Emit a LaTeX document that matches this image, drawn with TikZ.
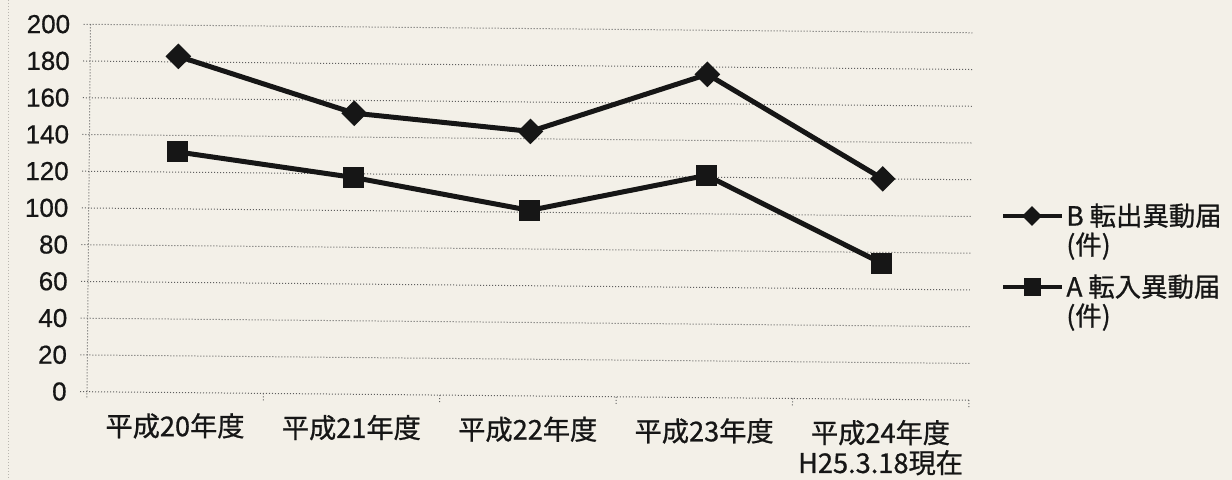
\documentclass[tikz,border=0pt]{standalone}
\usepackage{fontspec}
\setmainfont[FakeBold=0.6]{Liberation Sans}
\newfontfamily\jp[FakeBold=0.8]{Noto Sans CJK JP}
\usetikzlibrary{shapes.geometric}
\definecolor{paper}{RGB}{243,240,232}
\definecolor{ink}{RGB}{22,22,22}
\definecolor{gridc}{RGB}{95,95,95}
\definecolor{faint}{RGB}{185,182,175}
\begin{document}
\begin{tikzpicture}[x=0.5pt,y=-0.5pt,
  gridline/.style={gridc, line width=0.5pt, densely dotted},
  axisline/.style={gridc, line width=0.5pt, densely dotted},
  series/.style={ink, line width=2.5pt, line join=round},
  dmark/.style={diamond, fill=ink, inner sep=0pt, minimum width=13pt, minimum height=13pt},
  smark/.style={rectangle, fill=ink, inner sep=0pt, minimum size=10.5pt},
  ldmark/.style={diamond, fill=ink, inner sep=0pt, minimum width=10pt, minimum height=10pt},
  lsmark/.style={rectangle, fill=ink, inner sep=0pt, minimum width=8.5pt, minimum height=9pt},
  legline/.style={ink, line width=1.8pt},
  ylab/.style={anchor=east, inner sep=0pt, text=ink, font=\fontsize{13}{15}\selectfont},
  xlab/.style={anchor=north, inner sep=0pt, text=ink, align=center, font=\jp\fontsize{13.6}{15}\selectfont},
  leglab/.style={anchor=north west, inner sep=0pt, text=ink, align=left, font=\jp\fontsize{13.2}{14.5}\selectfont}
]
\fill[paper] (0,0) rectangle (1232,480);
\useasboundingbox (0,0) rectangle (1232,480);
\draw[faint, line width=0.5pt, densely dotted] (8,0) -- (8,480);

\begin{scope}[rotate around={-0.55:(87,392)}]
  % gridlines
  \foreach \v in {0,20,...,200} {
    \draw[gridline] (80,{391.7-\v*1.837}) -- (969,{391.7-\v*1.837});
    \node[ylab] (y\v) at (67,{391.7-\v*1.837}) {\v};
  }
  \draw[axisline] (87,24.3) -- (87,399);
  \foreach \i in {1,...,5} {
    \draw[axisline] ({87+176.4*\i},391.7) -- ({87+176.4*\i},399);
  }
  % category labels
  \node[xlab] (c1) at (175.2,412) {平成20年度};
  \node[xlab] (c2) at (351.6,412) {平成21年度};
  \node[xlab] (c3) at (528,412) {平成22年度};
  \node[xlab] (c4) at (704.4,412) {平成23年度};
  \node[xlab] (c5) at (880.8,412) {平成24年度\\H25.3.18現在};
  % data points
  \coordinate (b1) at (175.2,{391.7-183*1.837});
  \coordinate (b2) at (351.6,{391.7-153*1.837});
  \coordinate (b3) at (528,{391.7-144*1.837});
  \coordinate (b4) at (704.4,{391.7-176*1.837});
  \coordinate (b5) at (880.8,{391.7-120*1.837});
  \coordinate (a1) at (175.2,{391.7-131*1.837});
  \coordinate (a2) at (351.6,{391.7-118*1.837});
  \coordinate (a3) at (528,{391.7-101*1.837});
  \coordinate (a4) at (704.4,{391.7-121*1.837});
  \coordinate (a5) at (880.8,{391.7-74*1.837});
  \draw[series] (b1) -- (b2) -- (b3) -- (b4) -- (b5);
  \draw[series] (a1) -- (a2) -- (a3) -- (a4) -- (a5);
  \foreach \k in {1,...,5} {
    \node[dmark] (mb\k) at (b\k) {};
    \node[smark] (ma\k) at (a\k) {};
  }
\end{scope}

% legend
\coordinate (lb0) at (1003,216);
\coordinate (lb1) at (1062,216);
\draw[legline] (lb0) -- (lb1);
\node[ldmark] (lbm) at (1032,216) {};
\node[leglab] (lbt) at (1066,203) {B 転出異動届\\(件)};
\coordinate (la0) at (1003,287);
\coordinate (la1) at (1062,287);
\draw[legline] (la0) -- (la1);
\node[lsmark] (lam) at (1032,287) {};
\node[leglab] (lat) at (1066,274) {A 転入異動届\\(件)};
\end{tikzpicture}
\end{document}
